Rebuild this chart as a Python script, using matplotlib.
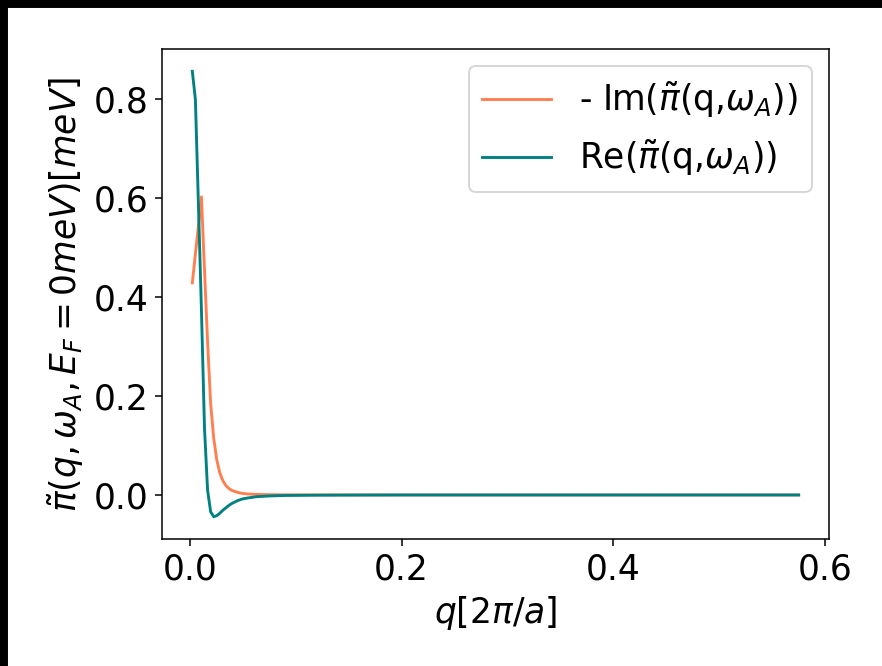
import matplotlib
matplotlib.use("Agg")
import matplotlib.pyplot as plt
from matplotlib.patches import Rectangle

# q grid [2pi/a]
q = [0.0025, 0.0054, 0.0083, 0.0111, 0.0140, 0.0169, 0.0198, 0.0227, 0.0255,
     0.0284, 0.0313, 0.0342, 0.0371, 0.0400, 0.0428, 0.0457, 0.0500, 0.0550,
     0.0630, 0.0750, 0.0900, 0.1200, 0.1500, 0.2000, 0.3000, 0.4000, 0.5000, 0.5750]

# -Im(pi~(q, omega_A))
im_vals = [0.429, 0.487, 0.545, 0.603, 0.455, 0.310, 0.185, 0.115, 0.072,
           0.045, 0.029, 0.019, 0.013, 0.009, 0.007, 0.005, 0.003, 0.002,
           0.0012, 0.0006, 0.0003, 0.0001, 0.0, 0.0, 0.0, 0.0, 0.0, 0.0]

# Re(pi~(q, omega_A))
re_vals = [0.857, 0.800, 0.585, 0.375, 0.135, 0.010, -0.034, -0.044, -0.042,
           -0.037, -0.031, -0.026, -0.021, -0.017, -0.014, -0.011, -0.008, -0.006,
           -0.0035, -0.002, -0.001, -0.0004, -0.0002, 0.0, 0.0, 0.0, 0.0, 0.0]

labels = [r'- Im($\tilde{\pi}$(q,$\omega_A$))', r'Re($\tilde{\pi}$(q,$\omega_A$))']

DPI = 138
plt.rcParams['font.size'] = 18
fig = plt.figure(figsize=(882 / DPI, 666 / DPI), dpi=DPI)
ax = fig.add_axes([162 / 882, 1 - 539 / 666, 667 / 882, 490 / 666])

ax.plot(q, im_vals, color='#ff7f50', lw=1.5, label=labels[0])
ax.plot(q, re_vals, color='#008080', lw=1.5, label=labels[1])

ax.set_xticks([0.0, 0.2, 0.4, 0.6])
ax.set_yticks([0.0, 0.2, 0.4, 0.6, 0.8])
ax.set_xlabel(r'$q[2\pi/a]$')
ax.set_ylabel(r'$\tilde{\pi}(q,\omega_A,E_F=0meV)[meV]$')
ax.legend(loc='upper right')

# dark border strips at the top and left of the picture
fig.patches.append(Rectangle((0, 1 - 7 / 666), 1, 7 / 666, transform=fig.transFigure,
                             color='black', zorder=10))
fig.patches.append(Rectangle((0, 0), 7 / 882, 1, transform=fig.transFigure,
                             color='black', zorder=10))

fig.savefig('out.png', dpi=DPI)
